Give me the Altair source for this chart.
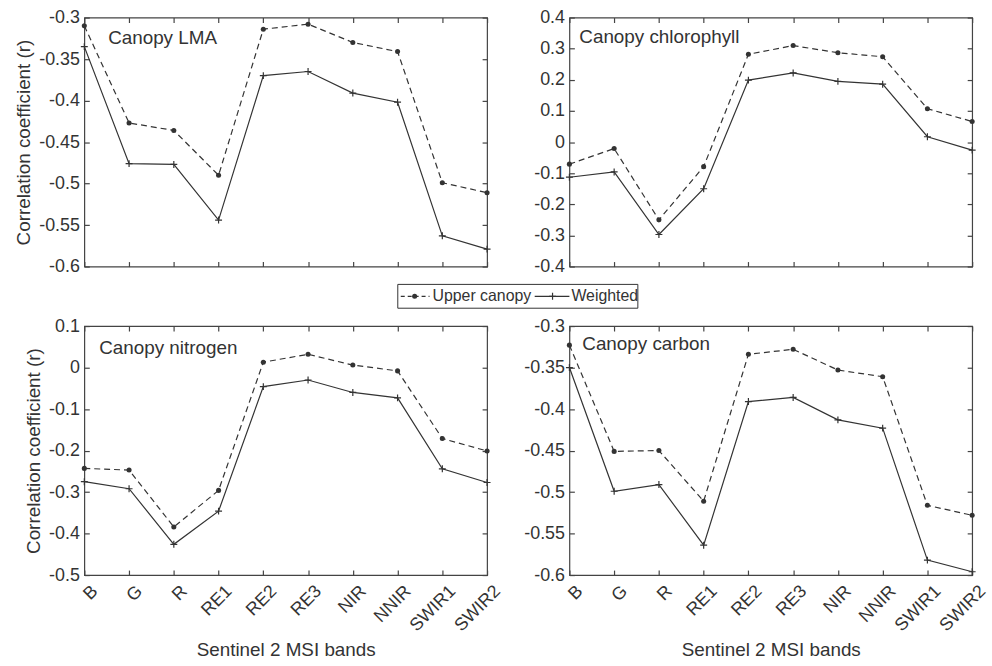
import altair as alt
import pandas as pd

bands = ["B", "G", "R", "RE1", "RE2", "RE3", "NIR", "NNIR", "SWIR1", "SWIR2"]
series_names = ["Upper canopy", "Weighted"]

lma_upper = [-0.310, -0.427, -0.436, -0.490, -0.314, -0.308, -0.330, -0.341, -0.499, -0.511]
lma_weighted = [-0.335, -0.476, -0.477, -0.544, -0.370, -0.365, -0.391, -0.402, -0.563, -0.579]

chl_upper = [-0.071, -0.021, -0.250, -0.079, 0.282, 0.310, 0.287, 0.274, 0.107, 0.066]
chl_weighted = [-0.113, -0.096, -0.297, -0.150, 0.199, 0.222, 0.195, 0.186, 0.017, -0.026]

nit_upper = [-0.243, -0.247, -0.384, -0.296, 0.013, 0.032, 0.006, -0.008, -0.171, -0.201]
nit_weighted = [-0.275, -0.292, -0.426, -0.346, -0.046, -0.030, -0.060, -0.073, -0.244, -0.277]

car_upper = [-0.323, -0.451, -0.450, -0.511, -0.334, -0.328, -0.353, -0.361, -0.516, -0.528]
car_weighted = [-0.350, -0.499, -0.491, -0.564, -0.391, -0.386, -0.413, -0.423, -0.582, -0.596]

lma_ticks = [-0.6, -0.55, -0.5, -0.45, -0.4, -0.35, -0.3]
chl_ticks = [-0.4, -0.3, -0.2, -0.1, 0, 0.1, 0.2, 0.3, 0.4]
nit_ticks = [-0.5, -0.4, -0.3, -0.2, -0.1, 0, 0.1]
car_ticks = [-0.6, -0.55, -0.5, -0.45, -0.4, -0.35, -0.3]

C = "#333333"
FONT = "Liberation Sans"
PLUS = "M-1,0L1,0M0,-1L0,1"
TICK = 5
W, H = 406, 251


def panel(name, upper, weighted, ticks, ytitle, show_xlabels, label_pos, legend=False):
    df = pd.DataFrame({
        "band": bands * 2,
        "series": [series_names[0]] * len(bands) + [series_names[1]] * len(bands),
        "r": upper + weighted,
    })
    xscale = alt.Scale(type="point", padding=0, domain=bands)
    yscale = alt.Scale(domain=[ticks[0], ticks[-1]], nice=False, zero=False)

    xaxis_main = alt.Axis(
        orient="bottom", offset=-TICK, tickSize=TICK, domain=False,
        labels=show_xlabels, labelAngle=-45, labelAlign="right", labelBaseline="top",
        labelPadding=7, labelOffset=4,
        title="Sentinel 2 MSI bands" if show_xlabels else None,
        titlePadding=6,
    )
    yaxis_main = alt.Axis(
        orient="left", offset=-TICK, tickSize=TICK, domain=False,
        values=ticks, labelExpr="'' + datum.value", labelPadding=5,
        title=ytitle, titlePadding=5,
    )
    xaxis_aux = alt.Axis(orient="top", offset=-TICK, tickSize=TICK, domain=False,
                         labels=False, title=None)
    yaxis_aux = alt.Axis(orient="right", offset=-TICK, tickSize=TICK, domain=False,
                         values=ticks, labels=False, title=None)

    base = alt.Chart(df)
    up = base.transform_filter(alt.datum.series == series_names[0])
    wt = base.transform_filter(alt.datum.series == series_names[1])

    x_plain = alt.X("band:N", sort=bands, scale=xscale, axis=None)
    y_plain = alt.Y("r:Q", scale=yscale, axis=None)

    layers = [
        up.mark_line(color=C, strokeWidth=1.2, strokeDash=[6, 4]).encode(
            x=alt.X("band:N", sort=bands, scale=xscale, axis=xaxis_main),
            y=alt.Y("r:Q", scale=yscale, axis=yaxis_main),
        ),
        wt.mark_line(color=C, strokeWidth=1.2).encode(x=x_plain, y=y_plain),
        up.mark_point(shape="circle", filled=True, size=26, color=C, opacity=1).encode(x=x_plain, y=y_plain),
        wt.mark_point(shape=PLUS, filled=False, size=49, color=C, strokeWidth=1.2, opacity=1).encode(x=x_plain, y=y_plain),
        base.mark_point(opacity=0).encode(
            x=alt.X("band:N", sort=bands, scale=xscale, axis=xaxis_aux),
            y=alt.Y("r:Q", scale=yscale, axis=yaxis_aux),
        ),
        alt.Chart(pd.DataFrame({"t": [name]})).mark_text(
            align="left", baseline="middle", font=FONT, fontSize=19, color=C
        ).encode(text="t:N", x=alt.value(label_pos[0]), y=alt.value(label_pos[1])),
    ]

    if legend:
        ld = pd.DataFrame({"t": [0]})
        lb = alt.Chart(ld)
        ly = 281
        layers += [
            lb.mark_rect(fill="white", stroke=C, strokeWidth=1).encode(
                x=alt.value(316), x2=alt.value(558), y=alt.value(269), y2=alt.value(293)),
            lb.mark_rule(color=C, strokeWidth=1.2, strokeDash=[4, 3]).encode(
                x=alt.value(319), x2=alt.value(348), y=alt.value(ly)),
            lb.mark_point(shape="circle", filled=True, size=26, color=C, opacity=1).encode(
                x=alt.value(333), y=alt.value(ly)),
            lb.mark_text(align="left", baseline="middle", font=FONT, fontSize=16, color=C,
                         text=series_names[0]).encode(x=alt.value(351), y=alt.value(ly)),
            lb.mark_rule(color=C, strokeWidth=1.2).encode(
                x=alt.value(454), x2=alt.value(489), y=alt.value(ly)),
            lb.mark_point(shape=PLUS, filled=False, size=49, color=C, strokeWidth=1.2, opacity=1).encode(
                x=alt.value(472), y=alt.value(ly)),
            lb.mark_text(align="left", baseline="middle", font=FONT, fontSize=16, color=C,
                         text=series_names[1]).encode(x=alt.value(491), y=alt.value(ly)),
        ]

    return alt.layer(*layers).resolve_axis(x="independent", y="independent").properties(
        width=W, height=H)


ytitle = "Correlation coefficient (r)"
p1 = panel("Canopy LMA", lma_upper, lma_weighted, lma_ticks, ytitle, False, (24, 21), legend=True)
p2 = panel("Canopy chlorophyll", chl_upper, chl_weighted, chl_ticks, None, False, (10, 20))
p3 = panel("Canopy nitrogen", nit_upper, nit_weighted, nit_ticks, ytitle, True, (15, 22))
p4 = panel("Canopy carbon", car_upper, car_weighted, car_ticks, None, True, (13, 18))

chart = alt.concat(
    p1, p2, p3, p4, columns=2,
    spacing=alt.RowColnumber(row=60, column=83),
    bounds="flush",
).properties(
    padding={"left": 14, "top": 5, "right": 2, "bottom": 5},
    background="white",
).configure_view(
    stroke="#444444", strokeWidth=1.2,
).configure_axis(
    grid=False, labelFont=FONT, titleFont=FONT, labelFontSize=18, titleFontSize=19,
    labelColor=C, titleColor=C, tickColor="#444444", tickWidth=1.2, titleFontWeight="normal",
)

chart.save("out.html", embed_options={"renderer": "svg", "actions": False})
